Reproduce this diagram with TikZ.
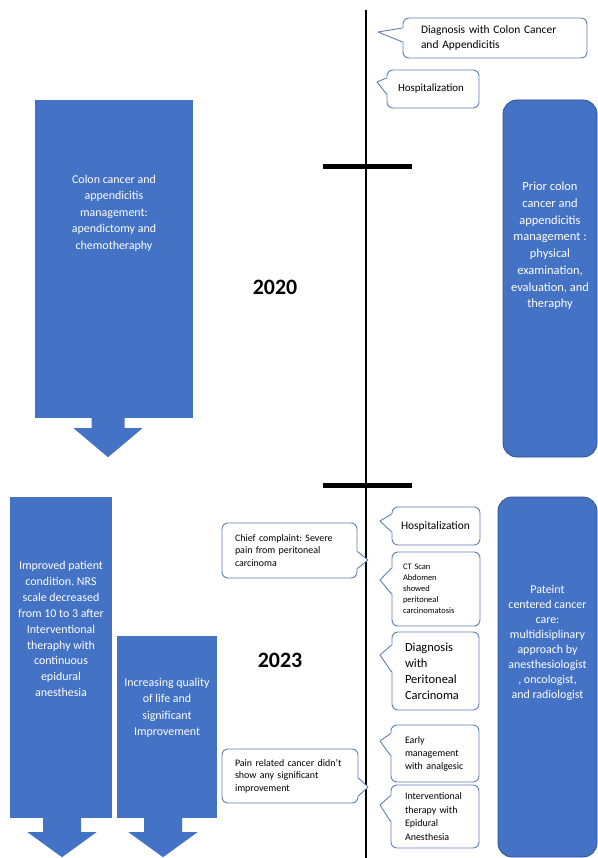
\documentclass[tikz,border=0pt]{standalone}
\usepackage{fontspec}
\setmainfont{Carlito}

\definecolor{boxblue}{RGB}{68,114,196}
\definecolor{boxedge}{RGB}{47,82,143}
\definecolor{noteedge}{RGB}{96,128,178}

\tikzset{
  blockarrow/.style={rectangle, fill=boxblue, inner sep=0pt},
  roundblock/.style={rectangle, draw=boxedge, line width=0.8bp, fill=boxblue, rounded corners=14bp, inner sep=0pt},
  whitetext/.style={text=white, align=center, font=\fontsize{12}{16.5}\selectfont},
  note/.style={rectangle, draw=noteedge, line width=0.9bp, fill=white, rounded corners=6bp, align=left, inner ysep=0pt},
  noteline/.style={draw=noteedge, line width=0.9bp, line join=round},
  yearlabel/.style={font=\bfseries\fontsize{22}{26}\selectfont},
}

\newcommand{\downhead}[5]{%
  \fill[boxblue] ([xshift=#2bp]#1.south) ++(-#3,0) -- ++(0,#4) -- ++({#3-34.5},0) -- ++(34.5,#5) -- ++(34.5,-#5) -- ++({#3-34.5},0) -- ++(0,-#4) -- cycle;}
\newcommand{\tipleft}[4]{%
  \fill[white] ([xshift=1.5bp,yshift=#2bp]#1.west) -- (#4) -- ([xshift=1.5bp,yshift=#3bp]#1.west) -- cycle;
  \draw[noteline] ([yshift=#2bp]#1.west) -- (#4) -- ([yshift=#3bp]#1.west);}
\newcommand{\tipright}[4]{%
  \fill[white] ([xshift=-1.5bp,yshift=#2bp]#1.east) -- (#4) -- ([xshift=-1.5bp,yshift=#3bp]#1.east) -- cycle;
  \draw[noteline] ([yshift=#2bp]#1.east) -- (#4) -- ([yshift=#3bp]#1.east);}

\begin{document}
\frenchspacing
\begin{tikzpicture}[x=1bp,y=-1bp]
\path[use as bounding box, fill=white] (0,0) rectangle (598,858);

% timeline
\coordinate (tltop) at (366,10);
\coordinate (tlbot) at (366,858);
\coordinate (tickAl) at (323,166);
\coordinate (tickAr) at (412,166);
\coordinate (tickBl) at (323,485);
\coordinate (tickBr) at (412,485);
\draw[line width=2.6bp] (tltop) -- (tlbot);
\draw[line width=5bp] (tickAl) -- (tickAr);
\draw[line width=5bp] (tickBl) -- (tickBr);

% 2020
\node[blockarrow, minimum width=158bp, minimum height=318bp] (cancermgmt) at (114,259) {};
\node[whitetext] (cancertxt) at (114,213) {Colon cancer and\\appendicitis\\management:\\apendictomy and\\chemotheraphy};
\downhead{cancermgmt}{-6}{16.5}{10}{29}

\node[roundblock, minimum width=94bp, minimum height=357bp] (priormgmt) at (550,278.5) {};
\node[whitetext, font=\fontsize{12.5}{16.8}\selectfont] (priortxt) at (550,246) {Prior colon\\cancer and\\appendicitis\\management :\\physical\\examination,\\evaluation, and\\theraphy};

\node[yearlabel] (y2020) at (275,287) {2020};

\coordinate (diagcolontip) at (378,32);
\coordinate (hosp1tip) at (377,82);
\node[note, text width=148bp, inner xsep=18bp, minimum height=40bp, font=\fontsize{11.5}{15}\selectfont] (diagcolon) at (495,38) {Diagnosis with Colon Cancer\\and Appendicitis};
\tipleft{diagcolon}{10}{-4}{diagcolontip}
\node[note, text width=70bp, inner xsep=11bp, minimum height=38bp, font=\fontsize{11}{14}\selectfont] (hosp1) at (433,89) {Hospitalization};
\tipleft{hosp1}{11}{-5}{hosp1tip}

% 2023
\node[yearlabel] (y2023) at (280,660) {2023};

\node[blockarrow, minimum width=102bp, minimum height=321bp] (improved) at (61,657.5) {};
\node[whitetext, font=\fontsize{12}{16}\selectfont] (improvedtxt) at (61,629) {Improved patient\\condition. NRS\\scale decreased\\from 10 to 3 after\\Interventional\\theraphy with\\continuous\\epidural\\anesthesia};
\downhead{improved}{1}{19}{14}{25}

\node[blockarrow, minimum width=100bp, minimum height=182bp] (quality) at (167,727) {};
\node[whitetext, font=\fontsize{12}{16.5}\selectfont] (qualitytxt) at (167,708) {Increasing quality\\of life and\\significant\\Improvement};
\downhead{quality}{-4}{19}{14}{25}

\node[roundblock, minimum width=99bp, minimum height=360bp] (patientcare) at (547.5,677) {};
\node[whitetext, font=\fontsize{12}{15}\selectfont] (patientcaretxt) at (547.5,643) {Pateint\\centered cancer\\care:\\multidisiplinary\\approach by\\anesthesiologist\\, oncologist,\\and radiologist};

\coordinate (chieftip) at (368,560);
\coordinate (painreltip) at (368,787);
\node[note, text width=109bp, inner xsep=13bp, minimum height=55bp, font=\fontsize{10}{12.5}\selectfont] (chiefcompl) at (289.5,550.5) {Chief complaint: Severe\\pain from peritoneal\\carcinoma};
\tipright{chiefcompl}{-1}{-18}{chieftip}
\node[note, text width=110bp, inner xsep=13bp, minimum height=54bp, font=\fontsize{10}{12.5}\selectfont] (painrel) at (290,776) {Pain related cancer didn't\\show any significant\\improvement};
\tipright{painrel}{-2}{-20}{painreltip}

\coordinate (hosp2tip) at (380,521);
\coordinate (ctscantip) at (380,580);
\coordinate (diagperittip) at (380,655);
\coordinate (earlytip) at (380,741);
\coordinate (epiduraltip) at (380,805);
\node[note, text width=70bp, inner xsep=9bp, minimum height=38bp, font=\fontsize{11.5}{14}\selectfont] (hosp2) at (436,526) {Hospitalization};
\tipleft{hosp2}{12}{-6}{hosp2tip}
\node[note, text width=66bp, inner xsep=11bp, minimum height=74bp, font=\fontsize{8.5}{11}\selectfont] (ctscan) at (436,589) {CT Scan\\Abdomen\\showed\\peritoneal\\carcinomatosis};
\tipleft{ctscan}{21}{-5}{ctscantip}
\node[note, text width=61bp, inner xsep=13bp, minimum height=78bp, font=\fontsize{12.5}{16}\selectfont] (diagperit) at (435.5,671) {Diagnosis\\with\\Peritoneal\\Carcinoma};
\tipleft{diagperit}{26}{-1}{diagperittip}
\node[note, text width=60bp, inner xsep=14bp, minimum height=57bp, font=\fontsize{10}{13}\selectfont] (earlymgmt) at (435,753.5) {Early\\management\\with analgesic};
\tipleft{earlymgmt}{20}{-2}{earlytip}
\node[note, text width=60bp, inner xsep=14bp, minimum height=63bp, font=\fontsize{10}{13.5}\selectfont] (epidural) at (435,816.5) {Interventional\\therapy with\\Epidural\\Anesthesia};
\tipleft{epidural}{21}{-5}{epiduraltip}
\end{tikzpicture}
\end{document}
